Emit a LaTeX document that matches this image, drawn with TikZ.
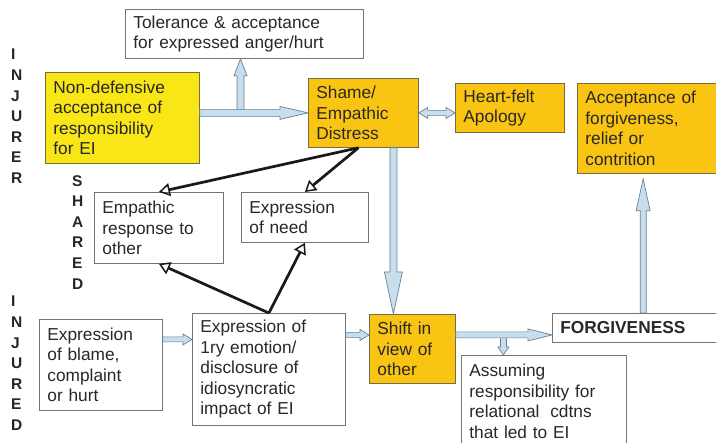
\documentclass[tikz,border=0pt]{standalone}
\usepackage{fontspec}
\setmainfont{Liberation Sans}
\usetikzlibrary{arrows.meta,calc}
\definecolor{yel}{RGB}{248,230,22}
\definecolor{org}{RGB}{250,196,18}
\definecolor{cbord}{RGB}{120,108,70}
\definecolor{wbord}{RGB}{115,115,115}
\definecolor{txt}{RGB}{40,40,40}
\definecolor{afill}{RGB}{200,222,236}
\definecolor{abord}{RGB}{105,130,150}
\tikzset{
  box/.style={draw=wbord, line width=0.8pt, fill=white, anchor=north west, align=left,
    inner xsep=8pt, inner ysep=1pt, text=txt, font=\fontsize{17.3}{20.5}\selectfont},
  ybox/.style={box, fill=yel, draw=cbord},
  obox/.style={box, fill=org, draw=cbord},
  side/.style={anchor=north west, inner sep=0pt, align=left, text=black!85,
    font=\bfseries\fontsize{15.5}{20.6}\selectfont},
  blk/.style={line width=2.7pt, draw=black!90,
    -{Triangle[open, length=11pt, width=13pt, line width=1.5pt]}},
  blockarrow/.style={draw=abord, fill=afill, line width=0.7pt, line join=miter}
}
% block arrow: start, end, half shaft, half head, head length
\newcommand{\barrow}[5]{%
  \coordinate (ba-h) at ($(#2)!#5!(#1)$);
  \path[blockarrow] ($(#1)!#3!-90:(#2)$) -- ($(ba-h)!#3!-90:(#2)$)
    -- ($(ba-h)!#4!-90:(#2)$) -- (#2) -- ($(ba-h)!#4!90:(#2)$)
    -- ($(ba-h)!#3!90:(#2)$) -- ($(#1)!#3!90:(#2)$) -- cycle;
}
\newcommand{\bdarrow}[5]{%
  \coordinate (bb-a) at ($(#1)!#5!(#2)$);
  \coordinate (bb-b) at ($(#2)!#5!(#1)$);
  \path[blockarrow] ($(bb-a)!#3!-90:(#2)$) -- ($(bb-b)!#3!-90:(#2)$)
    -- ($(bb-b)!#4!-90:(#2)$) -- (#2) -- ($(bb-b)!#4!90:(#2)$)
    -- ($(bb-b)!#3!90:(#2)$) -- ($(bb-a)!#3!90:(#2)$)
    -- ($(bb-a)!#4!90:(#2)$) -- (#1) -- ($(bb-a)!#4!-90:(#2)$) -- cycle;
}
\begin{document}
\begin{tikzpicture}[x=1pt, y=-1pt]
\useasboundingbox (0,0) rectangle (716,443);
\clip (0,0) rectangle (716,443);
\fill[white] (0,0) rectangle (716,443);

% side labels
\node[side] (injurer) at (11,49) {I\\N\\J\\U\\R\\E\\R};
\node[side] (shared) at (72,175) {S\\H\\A\\R\\E\\D};
\node[side] (injured) at (11,296) {I\\N\\J\\U\\R\\E\\D};

% boxes
\node[box, minimum width=238pt, minimum height=49pt, text width=222pt] (tol) at (125,9)
  {Tolerance \& acceptance\\for expressed anger/hurt};
\node[ybox, minimum width=154pt, minimum height=91pt, text width=138pt] (nondef) at (45,72)
  {Non-defensive\\acceptance of\\responsibility\\for EI};
\node[obox, minimum width=110pt, minimum height=69pt, text width=94pt] (shame) at (308,78)
  {Shame/\\Empathic\\Distress};
\node[obox, minimum width=109pt, minimum height=49pt, text width=93pt] (heart) at (455,83)
  {Heart-felt\\Apology};
\node[obox, minimum width=138.5pt, minimum height=90pt, text width=122.5pt] (accept) at (577,83)
  {Acceptance of\\forgiveness,\\relief or\\contrition};
\node[box, minimum width=129pt, minimum height=71pt, text width=113pt] (empat) at (94,192)
  {Empathic\\response to\\other};
\node[box, minimum width=127pt, minimum height=50pt, text width=111pt] (need) at (241,192)
  {Expression\\of need};
\node[box, minimum width=123pt, minimum height=91pt, text width=107pt] (blame) at (39,319)
  {Expression\\of blame,\\complaint\\or hurt};
\node[box, minimum width=153pt, minimum height=112pt, text width=137pt] (ry) at (192,313)
  {Expression of\\1ry emotion/\\disclosure of\\idiosyncratic\\impact of EI};
\node[obox, minimum width=86pt, minimum height=69pt, text width=70pt] (shift) at (369,314)
  {Shift in\\view of\\other};
\node[box, minimum width=163.5pt, minimum height=29pt, text width=147.5pt] (forg) at (552,313)
  {\textbf{FORGIVENESS}};
\node[box, minimum width=165pt, minimum height=92pt, text width=149pt] (assum) at (461,355)
  {Assuming\\responsibility for\\relational\hspace{5pt} cdtns\\that led to EI};

% block arrows
\coordinate (j0) at (240.5,109.5);
\coordinate (j1) at (j0 |- tol.south);
\barrow{j0}{j1}{3.5pt}{6.5pt}{17pt}
\coordinate (n1) at (nondef.east |- shame.west);
\coordinate (n2) at (shame.west);
\barrow{n1}{n2}{3.5pt}{6.5pt}{28pt}
\coordinate (h1) at (shame.east);
\coordinate (h2) at (heart.west |- shame.east);
\bdarrow{h1}{h2}{2.5pt}{5.5pt}{9pt}
\coordinate (d1) at ([xshift=30pt]shame.south);
\coordinate (d2) at (d1 |- shift.north);
\barrow{d1}{d2}{3.5pt}{9pt}{42pt}
\coordinate (a1) at ([yshift=25.5pt]blame.east);
\coordinate (a1e) at (a1 -| ry.west);
\barrow{a1}{a1e}{2.5pt}{5.5pt}{9pt}
\coordinate (a2e) at ([yshift=14pt]shift.west);
\coordinate (a2) at (a2e -| ry.east);
\barrow{a2}{a2e}{2.5pt}{5.5pt}{9pt}
\coordinate (a3) at ([yshift=14pt]shift.east);
\coordinate (a3e) at (a3 -| forg.west);
\coordinate (a4e) at ([xshift=-40.5pt]assum.north);
\coordinate (a4) at (a4e |- a3);
\barrow{a4}{a4e}{3pt}{5.5pt}{8pt}
\barrow{a3}{a3e}{3pt}{6pt}{24pt}
\coordinate (a5) at ([xshift=9pt]forg.north);
\coordinate (a6) at ([yshift=-5pt]a5 |- accept.south);
\barrow{a5}{a6}{3pt}{7pt}{32pt}

% black arrows
\draw[blk] ([xshift=-5pt]shame.south) -- (empat.north);
\draw[blk] ([xshift=-5pt]shame.south) -- (need.north);
\draw[blk] (ry.north) -- (empat.south);
\draw[blk] (ry.north) -- (need.south);
\end{tikzpicture}
\end{document}
